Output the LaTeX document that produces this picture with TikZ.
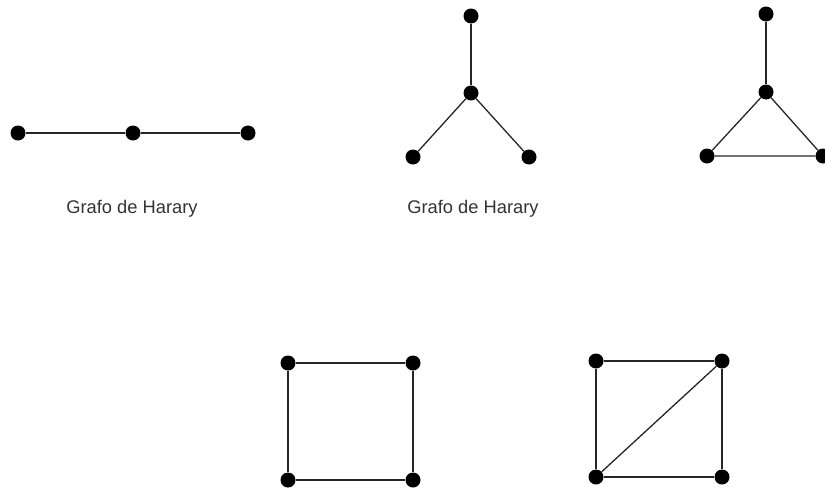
\documentclass[tikz,border=0pt]{standalone}
\usepackage{fontspec}
\setmainfont{Liberation Sans}
\tikzset{
  vtx/.style={circle,fill=black,inner sep=0pt,minimum size=15pt},
  edge/.style={line width=1.3pt,draw=black!85},
  lbl/.style={font=\fontsize{18.3}{22}\selectfont,text=black!80}
}
\begin{document}
\begin{tikzpicture}[x=1pt,y=-1pt]
\useasboundingbox (0,0) rectangle (825,490);

% path
\node [vtx] (p-a) at (18,133) {};
\node [vtx] (p-b) at (133,133) {};
\node [vtx] (p-c) at (248,133) {};
\draw [edge] (p-a) -- (p-b) -- (p-c);
\node [lbl] (p-text) at (132,209) {Grafo de Harary};

% star
\node [vtx] (s-top) at (471,16) {};
\node [vtx] (s-mid) at (471,93) {};
\node [vtx] (s-left) at (413,157) {};
\node [vtx] (s-right) at (529,157) {};
\draw [edge] (s-top) -- (s-mid);
\draw [edge] (s-mid) -- (s-left);
\draw [edge] (s-mid) -- (s-right);
\node [lbl] (s-text) at (473,209) {Grafo de Harary};

% paw
\node [vtx] (t-top) at (766,14) {};
\node [vtx] (t-mid) at (766,92) {};
\node [vtx] (t-left) at (707,156) {};
\node [vtx] (t-right) at (823,156) {};
\draw [edge] (t-top) -- (t-mid);
\draw [edge] (t-mid) -- (t-left) -- (t-right) -- (t-mid);

% square
\node [vtx] (q-tl) at (288,363) {};
\node [vtx] (q-tr) at (413,363) {};
\node [vtx] (q-bl) at (288,480) {};
\node [vtx] (q-br) at (413,480) {};
\draw [edge] (q-tl) -- (q-tr) -- (q-br) -- (q-bl) -- (q-tl);

% square with diagonal
\node [vtx] (d-tl) at (596,361) {};
\node [vtx] (d-tr) at (722,361) {};
\node [vtx] (d-bl) at (596,477) {};
\node [vtx] (d-br) at (722,477) {};
\draw [edge] (d-tl) -- (d-tr) -- (d-br) -- (d-bl) -- (d-tl);
\draw [edge] (d-bl) -- (d-tr);

\end{tikzpicture}
\end{document}
